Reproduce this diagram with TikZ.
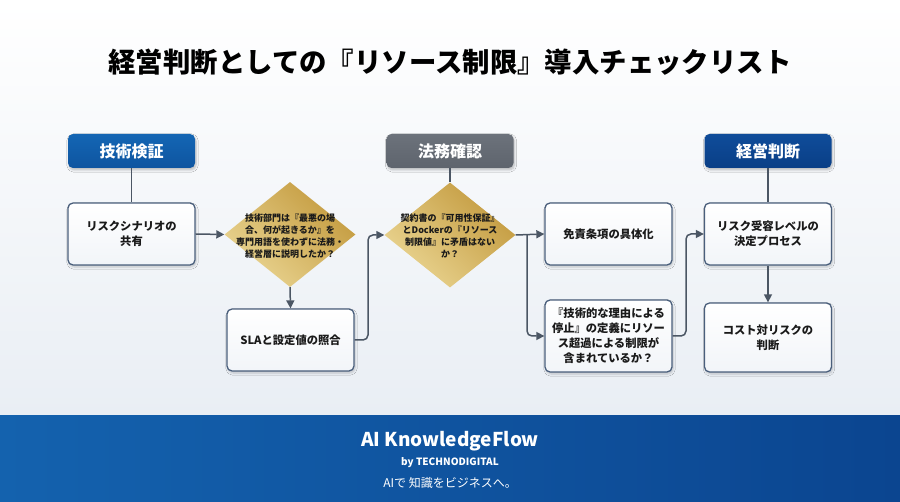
\documentclass[tikz,border=0pt]{standalone}
\usepackage{fontspec}
\setmainfont{Noto Sans CJK JP}
\usetikzlibrary{shapes.geometric,arrows.meta,shadows.blur}
\definecolor{bgA}{HTML}{FFFFFF}
\definecolor{bgB}{HTML}{E9EEF4}
\definecolor{hblue}{HTML}{1466B4}
\definecolor{hblueD}{HTML}{0E55A0}
\definecolor{hgrey}{HTML}{6C727B}
\definecolor{hgreyD}{HTML}{5E646D}
\definecolor{hnavy}{HTML}{0F4C9A}
\definecolor{hnavyD}{HTML}{0A3F86}
\definecolor{edge}{HTML}{4A5F7C}
\definecolor{conn}{HTML}{4B5664}
\definecolor{goldL}{HTML}{EAD592}
\definecolor{goldD}{HTML}{C39A3E}
\definecolor{txt}{HTML}{1A1A1A}
\definecolor{footL}{HTML}{1462AE}
\definecolor{footD}{HTML}{0B4590}
\tikzset{
  header/.style={rounded corners=5pt, minimum width=127pt, minimum height=34pt,
    text=white, font=\bfseries\fontsize{16}{18}\selectfont, inner sep=0pt,
    blur shadow={shadow blur steps=6, shadow xshift=1pt, shadow yshift=-2pt, shadow opacity=25}},
  stepbox/.style={draw=edge, line width=1.3pt, rounded corners=5pt,
    top color=white, bottom color=bgB!60,
    minimum width=127pt, minimum height=62pt, inner sep=2pt,
    text=txt, align=center, font=\bfseries\fontsize{11.3}{15}\selectfont,
    blur shadow={shadow blur steps=6, shadow xshift=1pt, shadow yshift=-2pt, shadow opacity=20}},
  decision/.style={diamond, draw=none, inner sep=0pt, minimum width=131pt, minimum height=105pt,
    left color=goldL, right color=goldD, shading angle=135},
  dtext/.style={text=txt, align=center, font=\bfseries\fontsize{9}{11.8}\selectfont, inner sep=0pt},
  link/.style={draw=conn, line width=1.5pt},
  arrow/.style={link, -{Triangle[length=8pt,width=8pt]}},
}
\begin{document}
\begin{tikzpicture}[x=1pt,y=-1pt]
\useasboundingbox (0,0) rectangle (900,502);
% background
\shade[top color=bgA, bottom color=bgB] (0,0) rectangle (900,416);
\shade[left color=footL, right color=footD] (0,416) rectangle (900,502);
% title
\node[font=\bfseries\fontsize{27.4}{31}\selectfont, text=black] (title) at (450,62) {経営判断としての『リソース制限』導入チェックリスト};
% headers
\node[header, top color=hblue, bottom color=hblueD] (h1) at (131.5,151) {技術検証};
\node[header, top color=hgrey, bottom color=hgreyD] (h2) at (450,151) {法務確認};
\node[header, top color=hnavy, bottom color=hnavyD] (h3) at (768,151) {経営判断};
% column 1
\node[stepbox] (b1) at (131.5,234) {リスクシナリオの\\共有};
\node[decision] (d1) at (290,234.5) {};
\node[dtext] (d1t) at (290,236) {技術部門は『最悪の場\\合、何が起きるか』を\\専門用語を使わずに法務・\\経営層に説明したか？};
\node[stepbox] (b2) at (290.5,340) {SLAと設定値の照合};
% column 2
\node[decision] (d2) at (450,235) {};
\node[dtext] (d2t) at (450,236) {契約書の『可用性保証』\\とDockerの『リソース\\制限値』に矛盾はない\\か？};
\node[stepbox] (b3) at (608.5,234) {免責条項の具体化};
\node[stepbox, minimum height=72pt] (b4) at (608.5,336) {『技術的な理由による\\停止』の定義にリソー\\ス超過による制限が\\含まれているか？};
% column 3
\node[stepbox] (b5) at (768,234) {リスク受容レベルの\\決定プロセス};
\node[stepbox, minimum height=69pt] (b6) at (768,337.5) {コスト対リスクの\\判断};
% connectors
\draw[link] (h1.south) -- (b1.north);
\draw[link] (h2.south) -- (d2.north);
\draw[link] (h3.south) -- (b5.north);
\draw[arrow] (b1.east) -- (d1.west);
\draw[arrow] (d1.south) -- (b2.north);
\coordinate (c1) at (368,0);
\draw[arrow, rounded corners=5pt] (b2.east) -| (c1 |- d2.west) -- (d2.west);
\draw[arrow] (d2.east) -- (b3.west);
\coordinate (c2) at (527,0);
\draw[arrow, rounded corners=5pt] (c2 |- d2.east) -- (c2 |- b4.west) -- (b4.west);
\coordinate (c3) at (686,0);
\draw[arrow, rounded corners=5pt] (b4.east) -| (c3 |- b5.west) -- (b5.west);
\draw[arrow] (b5.south) -- (b6.north);
% footer
\node[text=white, font=\bfseries\fontsize{19}{22}\selectfont] (f1) at (450,441) {AI KnowledgeFlow};
\node[text=white, font=\bfseries\fontsize{10}{12}\selectfont] (f2) at (450,463) {by TECHNODIGITAL};
\node[text=white, font=\fontsize{12}{14}\selectfont] (f3) at (450,483) {AIで 知識をビジネスへ。};
\end{tikzpicture}
\end{document}
